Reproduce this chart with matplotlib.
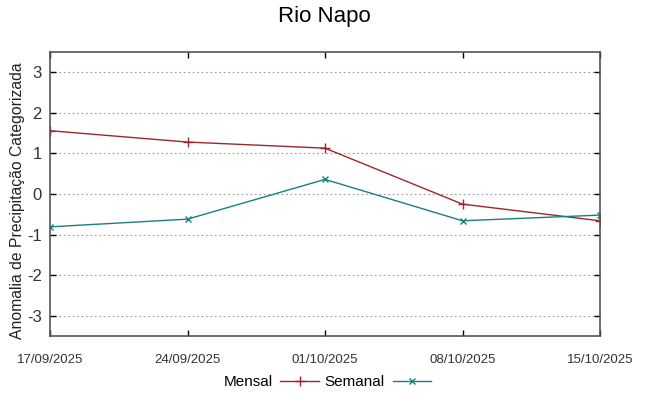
import pandas as pd
import matplotlib
matplotlib.use('Agg')
import matplotlib.pyplot as plt

plt.rcParams['font.family'] = ['Liberation Sans', 'DejaVu Sans']

# Data
dates = pd.to_datetime(['2025-09-17', '2025-09-24', '2025-10-01', '2025-10-08', '2025-10-15'])
tick_labels = ['17/09/2025', '24/09/2025', '01/10/2025', '08/10/2025', '15/10/2025']
mensal = [1.56, 1.28, 1.13, -0.25, -0.66]
semanal = [-0.81, -0.62, 0.36, -0.66, -0.52]
yticks = [-3, -2, -1, 0, 1, 2, 3]

fig = plt.figure(figsize=(6.48, 3.96), dpi=100)
ax = fig.add_axes([50 / 648, 1 - 336 / 396, 550 / 648, 284 / 396])

ax.plot(dates, mensal, color='#a0262a', lw=1, marker='+', ms=7, mew=1, label='Mensal')
ax.plot(dates, semanal, color='#1a7f7f', lw=1, marker='x', ms=5, mew=1, label='Semanal')

ax.set_xlim(dates[0], dates[-1])
ax.set_ylim(-3.5, 3.5)
ax.set_yticks(yticks)
ax.set_yticklabels([str(v) for v in yticks], fontsize=12, color='#333333')
ax.set_xticks(dates)
ax.set_xticklabels(tick_labels, fontsize=9.5, color='#333333',
                   family=['Liberation Sans Narrow', 'Liberation Sans'])
ax.tick_params(direction='in', top=True, right=True, length=4, width=1, color='black')
ax.tick_params(axis='x', pad=13)
ax.tick_params(axis='y', pad=6)
ax.grid(axis='y', linestyle=(0, (1.5, 2.5)), color='#999999', lw=0.8)
for s in ax.spines.values():
    s.set_color('#555555')
    s.set_linewidth(1.2)

ax.set_ylabel('Anomalia de Precipitação Categorizada', fontsize=11.3, color='#222222')
ax.yaxis.set_label_coords(-0.046, 0.475)
fig.suptitle('Rio Napo', fontsize=16, y=0.985)

fig.legend(loc='center', bbox_to_anchor=(0.505, 1 - 382 / 396), ncol=2,
           frameon=False, markerfirst=False, fontsize=11, handlelength=2.5,
           columnspacing=0.4, handletextpad=0.5)

fig.savefig('out.png', dpi=100)
